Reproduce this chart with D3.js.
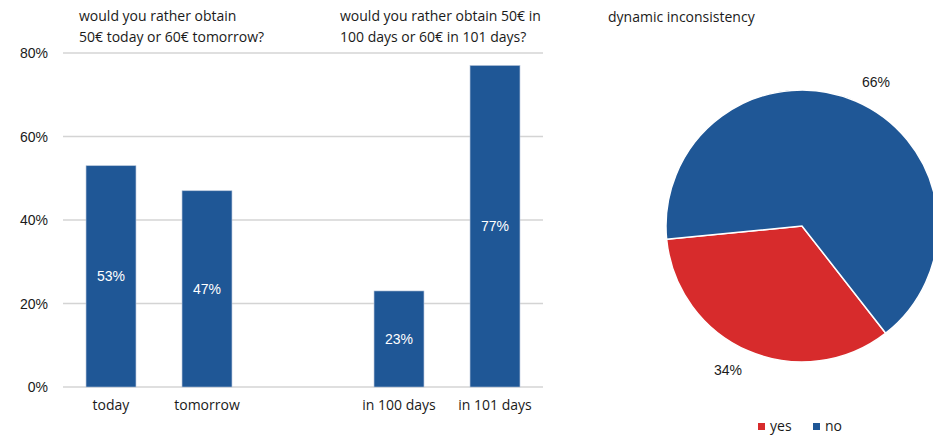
<!DOCTYPE html>
<html>
<head>
<meta charset="utf-8">
<script src="https://cdn.jsdelivr.net/npm/d3@7"></script>
<style>
  body { margin: 0; background: #fff; }
  svg { display: block; }
</style>
</head>
<body>
<script>
// bar chart data
var categories = ["today", "tomorrow", "", "in 100 days", "in 101 days"];
var barValues = [53, 47, null, 23, 77];
var yTicks = [0, 20, 40, 60, 80];

// pie data
var pieLabels = ["yes", "no"];
var pieValues = [34, 66];

var blue = "#1f5796", red = "#d72b2c";
var titleFont = "'Open Sans', sans-serif";
var numFont = "'Liberation Sans', Arial, sans-serif";

var svg = d3.select("body").append("svg")
    .attr("width", 933)
    .attr("height", 435);

// setup scales
var xScale = d3.scaleBand().domain(d3.range(categories.length)).range([63, 543])
    .paddingInner(0.48).paddingOuter(0.24);
var yScale = d3.scaleLinear().domain([0, 80]).range([387, 53]);

// gridlines
svg.append("g").selectAll("line")
    .data(yTicks)
    .enter().append("line")
    .attr("x1", 63).attr("x2", 543)
    .attr("y1", function(d) { return yScale(d); })
    .attr("y2", function(d) { return yScale(d); })
    .style("stroke", "#d4d4d4")
    .style("stroke-width", 1.5);

// y axis labels
svg.append("g").selectAll("text")
    .data(yTicks)
    .enter().append("text")
    .attr("x", 48)
    .attr("y", function(d) { return yScale(d); })
    .attr("dy", "0.36em")
    .attr("text-anchor", "end")
    .attr("font-family", numFont)
    .attr("font-size", 14)
    .attr("fill", "#1a1a1a")
    .text(function(d) { return d + "%"; });

// bars
var barData = barValues.map(function(v, i) { return {i: i, v: v}; })
    .filter(function(d) { return d.v !== null; });

svg.append("g").selectAll("rect")
    .data(barData)
    .enter().append("rect")
    .attr("x", function(d) { return xScale(d.i); })
    .attr("width", xScale.bandwidth())
    .attr("y", function(d) { return yScale(d.v); })
    .attr("height", function(d) { return yScale(0) - yScale(d.v); })
    .style("fill", blue)
    .style("stroke", "#aebfd6")
    .style("stroke-width", 0.6);

// value labels in bars
svg.append("g").selectAll("text")
    .data(barData)
    .enter().append("text")
    .attr("x", function(d) { return xScale(d.i) + xScale.bandwidth() / 2; })
    .attr("y", function(d) { return (yScale(d.v) + yScale(0)) / 2; })
    .attr("dy", "0.36em")
    .attr("text-anchor", "middle")
    .attr("font-family", numFont)
    .attr("font-size", 14)
    .attr("fill", "#fff")
    .text(function(d) { return d.v + "%"; });

// category labels
svg.append("g").selectAll("text")
    .data(categories)
    .enter().append("text")
    .attr("x", function(d, i) { return xScale(i) + xScale.bandwidth() / 2; })
    .attr("y", 410)
    .attr("text-anchor", "middle")
    .attr("font-family", titleFont)
    .attr("font-size", 14)
    .attr("fill", "#1a1a1a")
    .text(function(d) { return d; });

// titles
function title(x, lines, y0) {
    var t = svg.append("text")
        .attr("font-family", titleFont)
        .attr("font-size", 14)
        .attr("fill", "#1a1a1a");
    lines.forEach(function(s, k) {
        t.append("tspan").attr("x", x).attr("y", y0 + k * 21).text(s);
    });
}
title(79, ["would you rather obtain", "50€ today or 60€ tomorrow?"], 21);
title(340, ["would you rather obtain 50€ in", "100 days or 60€ in 101 days?"], 21);
title(608, ["dynamic inconsistency"], 22);

// pie
var cx = 802, cy = 226, r = 136;
var start = 142 * Math.PI / 180;
var pie = d3.pie().sort(null)
    .startAngle(start)
    .endAngle(start + 2 * Math.PI);
var arc = d3.arc().innerRadius(0).outerRadius(r);
var pieColor = d3.scaleOrdinal().domain(pieLabels).range([red, blue]);

var pieG = svg.append("g").attr("transform", "translate(" + cx + "," + cy + ")");
var slices = pie(pieValues);

pieG.selectAll("path")
    .data(slices)
    .enter().append("path")
    .attr("d", arc)
    .style("fill", function(d, i) { return pieColor(pieLabels[i]); })
    .style("stroke", "#fff")
    .style("stroke-width", 1.5);

// labels outside the slices, a little turned clockwise like the original
function labelPos(d) {
    var a = (d.startAngle + d.endAngle) / 2 + 4 * Math.PI / 180, rl = 162;
    return [Math.sin(a) * rl, -Math.cos(a) * rl];
}
pieG.selectAll("text")
    .data(slices)
    .enter().append("text")
    .attr("transform", function(d) { var c = labelPos(d); return "translate(" + c[0] + "," + c[1] + ")"; })
    .attr("dy", "0.36em")
    .attr("text-anchor", "middle")
    .attr("font-family", numFont)
    .attr("font-size", 14)
    .attr("fill", "#1a1a1a")
    .text(function(d) { return d.value + "%"; });

// legend
var legend = svg.selectAll(".legend")
    .data(pieLabels)
    .enter().append("g")
    .attr("class", "legend")
    .attr("transform", function(d, i) { return "translate(" + (758 + i * 55) + ",423)"; });

legend.append("rect")
    .attr("width", 7)
    .attr("height", 7)
    .style("fill", function(d) { return pieColor(d); });

legend.append("text")
    .attr("x", 12)
    .attr("y", 7)
    .attr("dy", "0.1em")
    .attr("font-family", titleFont)
    .attr("font-size", 14)
    .attr("fill", "#1a1a1a")
    .text(function(d) { return d; });
</script>
</body>
</html>
